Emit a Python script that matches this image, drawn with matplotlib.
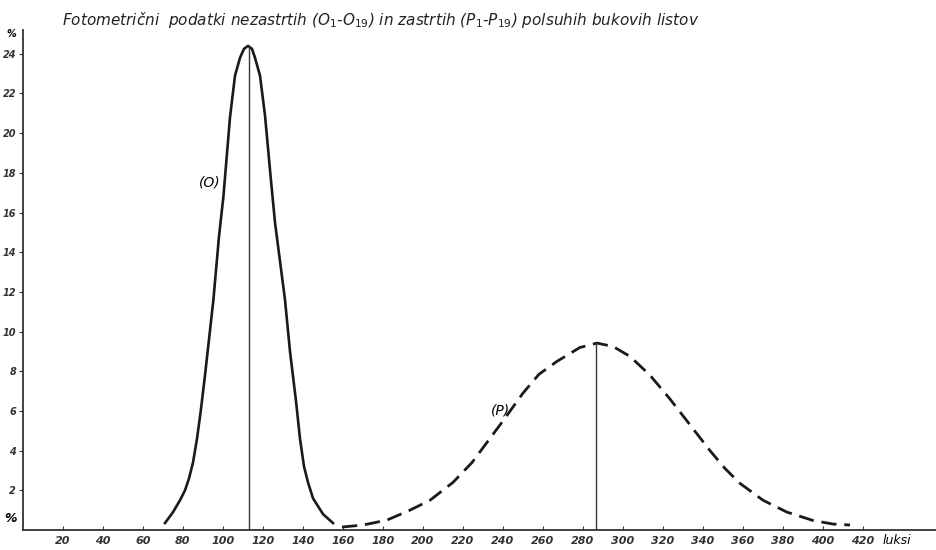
import numpy as np
import matplotlib.pyplot as plt

plt.rcParams['font.family'] = ['DejaVu Sans Condensed', 'DejaVu Sans']
plt.rcParams['mathtext.fontset'] = 'dejavusans'

# odčitane vrednosti s slike (luksi, %)
o_x = np.array([71, 75, 78.5, 81, 83, 85, 87, 89, 91, 95.2, 98, 100.2, 103.5, 106, 108.5, 110.5, 112.5,
                114.5, 116, 118.5, 121, 124, 126, 131, 133.5, 136.5, 138.5, 140.5, 142.5, 145, 150, 155])
o_y = np.array([0.35, 0.9, 1.5, 2.0, 2.6, 3.4, 4.6, 6.1, 7.8, 11.6, 14.8, 16.8, 20.8, 22.9, 23.8, 24.25, 24.4,
                24.25, 23.8, 22.9, 20.9, 17.6, 15.5, 11.6, 9.0, 6.5, 4.6, 3.2, 2.4, 1.6, 0.8, 0.35])

p_x = np.array([159.5, 170, 182, 193.5, 203.5, 215, 224.5, 240, 250, 258, 267, 278.5, 287,
                295, 303.5, 313.5, 323.5, 333.5, 343.5, 351, 358.5, 370, 382, 395, 405, 413.5])
p_y = np.array([0.15, 0.25, 0.5, 1.0, 1.5, 2.4, 3.4, 5.5, 6.9, 7.85, 8.5, 9.2, 9.42,
                9.25, 8.75, 7.8, 6.6, 5.3, 4.0, 3.1, 2.35, 1.5, 0.9, 0.48, 0.3, 0.25])

o_mean = 112.8
p_mean = 286.5

x_ticks = np.arange(20, 421, 20)
y_ticks = np.arange(2, 25, 2)

fig = plt.figure(figsize=(9.37, 5.5), dpi=100)
ax = fig.add_axes([23 / 937, 20 / 550, 1 - 23 / 937, 500 / 550])
ax.set_xlim(0, 457)
ax.set_ylim(0, 25.2)

ink = '#1a1a1a'
ax.plot(o_x, o_y, color=ink, lw=1.9, solid_joinstyle='round')
ax.plot(p_x, p_y, color=ink, lw=2.0, dashes=[5.5, 2.8])
ax.plot([o_mean, o_mean], [0, o_y.max()], color='#333333', lw=1.0)
ax.plot([p_mean, p_mean], [0, p_y.max()], color='#333333', lw=1.0)

for s in ['top', 'right']:
    ax.spines[s].set_visible(False)
for s in ['left', 'bottom']:
    ax.spines[s].set_linewidth(1.3)
    ax.spines[s].set_color('#333333')

ax.set_xticks(x_ticks)
ax.set_xticklabels([str(v) for v in x_ticks], fontsize=8, style='italic', fontweight='bold')
ax.set_yticks(y_ticks)
ax.set_yticklabels([str(v) for v in y_ticks], fontsize=7, style='italic', fontweight='bold')
ax.tick_params(axis='x', direction='in', length=3, width=0.8, pad=4, colors='#333333')
ax.tick_params(axis='y', direction='out', length=3, width=0.8, pad=2, colors='#333333')

ax.text(-6, 0.6, '%', fontsize=9, fontweight='bold', style='italic', ha='center', va='center',
        clip_on=False)
ax.text(-6, 25.0, '%', fontsize=7, fontweight='bold', style='italic', ha='center', va='center',
        clip_on=False)
ax.text(437, -0.55, 'luksi', fontsize=9, style='italic', ha='center', va='center', clip_on=False)

ax.text(93.5, 17.5, '(O)', fontsize=10, style='italic', ha='center', va='center')
ax.text(238.5, 6.0, '(P)', fontsize=10, style='italic', ha='center', va='center')

fig.text(62 / 937, 1 - 20 / 550,
         r'Fotometrični  podatki nezastrtih ($O_1$-$O_{19}$) in zastrtih ($P_1$-$P_{19}$) polsuhih bukovih listov',
         fontsize=11, style='italic', ha='left', va='center', color='#222222')

fig.savefig('out.png', dpi=100)
